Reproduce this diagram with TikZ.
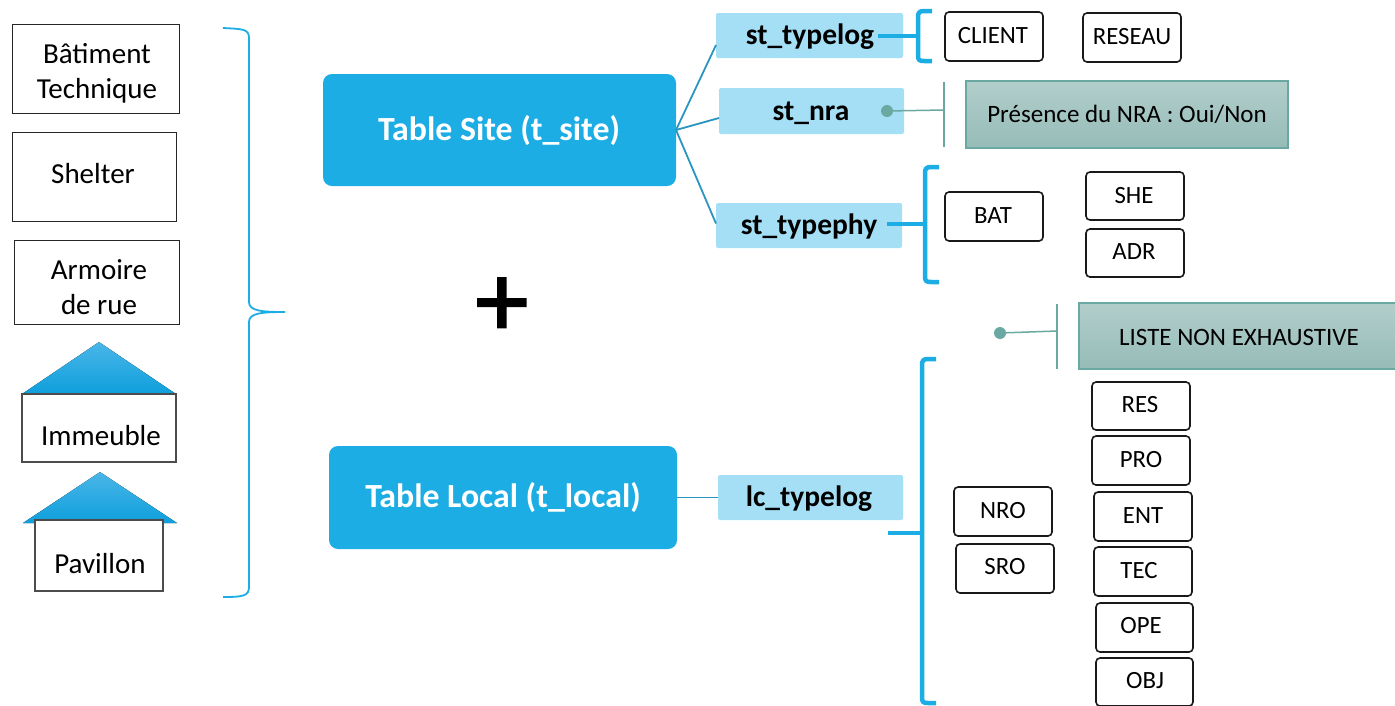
\documentclass[tikz,border=0pt]{standalone}
\usepackage{fontspec}
\setmainfont{Carlito}
\newfontfamily\plusfont[RawFeature={embolden=2}]{Carlito}
\definecolor{brandblue}{HTML}{1CADE4}
\definecolor{paleblue}{HTML}{A5DFF6}
\definecolor{linkblue}{HTML}{2A95C0}
\definecolor{teal}{HTML}{6AA9A2}
\definecolor{tealtop}{HTML}{B2CECB}
\definecolor{tealbot}{HTML}{96BCB8}
\definecolor{rooftop}{HTML}{4AB6E8}
\definecolor{roofbot}{HTML}{0E9FDC}
\newcommand\bx[9]{%
  \pgfmathsetmacro\cxx{(#3+#5)/2}\pgfmathsetmacro\cyy{(#4+#6)/2}%
  \pgfmathsetmacro\wdd{#5-#3}\pgfmathsetmacro\htt{#6-#4}%
  \pgfmathsetmacro\dxx{2*(#7-\cxx)}\pgfmathsetmacro\dyy{\cyy-#8}%
  \node[#1,minimum width=\wdd pt,minimum height=\htt pt] (#2) at (\cxx,\cyy)
    {\makebox[0pt]{\hspace*{\dxx pt}\raisebox{\dimexpr\dyy pt-0.32em\relax}{#9}}};%
}
\tikzset{
  x=1pt,y=-1pt,
  base/.style={inner sep=0pt,outer sep=0pt,text height=0pt,text depth=0pt,anchor=center},
  plainbox/.style={base,draw=black!85,line width=1pt,font=\fontsize{29}{35}\selectfont},
  housebox/.style={base,draw=black!70,line width=1.3pt,font=\fontsize{29}{35}\selectfont},
  tablebox/.style={base,fill=brandblue,rounded corners=9pt,text=white,font=\fontsize{33.8}{38}\selectfont\bfseries},
  fieldbox/.style={base,fill=paleblue,rounded corners=2pt,font=\fontsize{29.5}{34}\selectfont\bfseries},
  codebox/.style={base,draw=black!90,line width=1.6pt,rounded corners=4pt,font=\fontsize{24.8}{30}\selectfont},
  notebox/.style={base,draw=teal,line width=1.6pt,top color=tealtop,bottom color=tealbot,font=\fontsize{25}{30}\selectfont},
  link/.style={draw=linkblue,line width=1.8pt},
  bracket/.style={draw=brandblue,line width=4.5pt,line join=round},
  thinbrace/.style={draw=brandblue,line width=1.8pt},
  tealline/.style={draw=teal,line width=1.5pt},
  tealdot/.style={circle,fill=teal,inner sep=0pt,minimum size=12pt},
  roof/.style={top color=rooftop,bottom color=roofbot,draw=none},
}
\begin{document}
\begin{tikzpicture}
\useasboundingbox (0,0) rectangle (1395,705);
% left column
\bx{plainbox}{batiment}{12}{24}{179}{113}{97}{71}{\begin{tabular}[c]{@{}c@{}}Bâtiment\\Technique\end{tabular}}
\bx{plainbox}{shelter}{12}{132}{176}{221}{93}{174}{Shelter}
\bx{plainbox}{armoire}{14}{240}{179}{324}{99}{287}{\begin{tabular}[c]{@{}c@{}}Armoire\\de rue\end{tabular}}
\fill[roof] (22,394) -- (99,342) -- (176,394) -- cycle;
\bx{housebox}{immeuble}{22}{394}{176}{462}{101}{436}{Immeuble}
\fill[roof] (23,523) -- (100,472) -- (177,523) -- cycle;
\bx{housebox,fill=white}{pavillon}{35}{520}{163}{591}{100}{564}{Pavillon}
% big brace
\coordinate (bracetip) at (285,312);
\draw[thinbrace] (223,28) .. controls (243,29) and (249,29) .. (249,38) -- (249,302)
  .. controls (249,311) and (262,312) .. (bracetip)
  .. controls (262,312) and (249,313) .. (249,322) -- (249,587)
  .. controls (249,596) and (243,597) .. (223,597);
% tables
\bx{tablebox}{site}{323}{74}{676}{186}{499}{130}{Table Site (t\_site)}
\bx{tablebox}{local}{329}{446}{677}{549}{503}{497}{Table Local (t\_local)}
\node[inner sep=0pt,font=\fontsize{105}{110}\plusfont] (plus) at (502,307) {+};
% fields
\bx{fieldbox}{typelog}{716}{13}{903}{58}{810}{35}{st\_typelog}
\bx{fieldbox}{nra}{719}{88}{904}{134}{811}{111}{st\_nra}
\bx{fieldbox}{typephy}{716}{203}{902}{248}{809}{225}{st\_typephy}
\bx{fieldbox}{lctypelog}{718}{475}{903}{520}{809}{497}{lc\_typelog}
% links
\draw[link] (site.east) -- ([yshift=13pt]typelog.south west);
\draw[link] (site.east) -- ([yshift=16pt]nra.south west);
\draw[link] (site.east) -- ([yshift=2pt]typephy.west);
\draw[link] (local.east) -- (lctypelog.west);
% brackets
\coordinate (b1) at (918,36);
\coordinate (b2) at (925,224);
\coordinate (b3) at (922,533);
\draw[bracket] (932,11) -- (924,11) .. controls (919,11) and (918,13) .. (918,17) -- (b1) -- (918,55) .. controls (918,60) and (919,61) .. (924,61) -- (932,61);
\draw[bracket] ([xshift=-25pt]typelog.east |- b1) -- (b1);
\draw[bracket] (939,167) -- (931,167) .. controls (926,167) and (925,169) .. (925,173) -- (b2) -- (925,276) .. controls (925,281) and (926,282) .. (931,282) -- (939,282);
\draw[bracket] ([xshift=-15pt]typephy.east |- b2) -- (b2);
\draw[bracket] (936,359) -- (928,359) .. controls (923,359) and (922,361) .. (922,365) -- (b3) -- (922,697) .. controls (922,702) and (923,703) .. (928,703) -- (936,703);
\draw[bracket] (888,533) -- (b3);
% code boxes
\bx{codebox}{client}{945}{12}{1043}{61}{993}{36}{CLIENT}
\bx{codebox}{reseau}{1083}{13}{1181}{62}{1132}{37}{RESEAU}
\bx{codebox}{bat}{945}{192}{1043}{241}{993}{216}{BAT}
\bx{codebox}{she}{1086}{172}{1184}{220}{1134}{196}{SHE}
\bx{codebox}{adr}{1086}{229}{1184}{277}{1134}{252}{ADR}
\bx{codebox}{nro}{954}{487}{1052}{536}{1003}{511}{NRO}
\bx{codebox}{sro}{956}{544}{1054}{593}{1005}{567}{SRO}
\bx{codebox}{res}{1092}{382}{1190}{430}{1140}{405}{RES}
\bx{codebox}{pro}{1092}{436}{1190}{485}{1141}{460}{PRO}
\bx{codebox}{ent}{1094}{492}{1192}{541}{1143}{516}{ENT}
\bx{codebox}{tec}{1094}{547}{1192}{596}{1139}{571}{TEC}
\bx{codebox}{ope}{1096}{603}{1193}{652}{1141}{626}{OPE}
\bx{codebox}{obj}{1096}{658}{1193}{706}{1145}{681}{OBJ}
% notes
\bx{notebox}{note1}{966}{81}{1288}{148}{1127}{114}{Présence du NRA : Oui/Non}
\bx{notebox}{note2}{1079}{303}{1398}{369}{1239}{337}{LISTE NON EXHAUSTIVE}
\node[tealdot] (dot1) at (887,111) {};
\coordinate (bar1) at (944,110);
\draw[tealline] (dot1) -- (bar1);
\draw[tealline] (944,82) -- (bar1) -- (944,147);
\node[tealdot] (dot2) at (1000,333) {};
\coordinate (bar2) at (1057,331);
\draw[tealline] (dot2) -- (bar2);
\draw[tealline] (1057,304) -- (bar2) -- (1057,369);
\end{tikzpicture}
\end{document}
